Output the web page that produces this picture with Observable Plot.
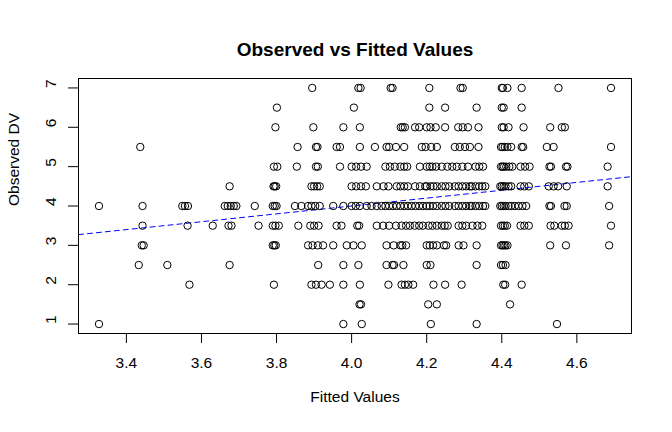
<!DOCTYPE html>
<html><head><meta charset="utf-8">
<script src="https://cdn.jsdelivr.net/npm/d3@7"></script>
<script src="https://cdn.jsdelivr.net/npm/@observablehq/plot@0.6"></script>
<style>body{margin:0;background:#fff;} svg{display:block;}</style>
</head><body><div id="chart"></div>
<script>
// Observed DV levels and fitted values of the points at each level
const fitted_7   = [3.895, 4.018, 4.024, 4.104, 4.109, 4.207, 4.290, 4.296, 4.400, 4.403, 4.415, 4.453, 4.551, 4.691];
const fitted_6_5 = [3.801, 4.006, 4.207, 4.249, 4.333, 4.400, 4.405, 4.453];
const fitted_6   = [3.797, 3.898, 3.978, 4.022, 4.131, 4.136, 4.142, 4.169, 4.180, 4.200, 4.210, 4.224, 4.249, 4.284, 4.296, 4.310, 4.338, 4.400, 4.405, 4.418, 4.458, 4.529, 4.560, 4.568];
const fitted_5_5 = [3.437, 3.856, 3.905, 3.909, 3.960, 3.969, 4.022, 4.062, 4.093, 4.100, 4.118, 4.140, 4.187, 4.197, 4.212, 4.227, 4.275, 4.288, 4.302, 4.315, 4.338, 4.398, 4.402, 4.408, 4.415, 4.425, 4.453, 4.457, 4.520, 4.538, 4.691];
const fitted_5   = [3.793, 3.802, 3.854, 3.905, 3.910, 3.969, 4.000, 4.012, 4.025, 4.040, 4.090, 4.102, 4.115, 4.130, 4.140, 4.148, 4.182, 4.200, 4.208, 4.215, 4.225, 4.240, 4.255, 4.268, 4.280, 4.295, 4.310, 4.330, 4.340, 4.350, 4.398, 4.402, 4.406, 4.412, 4.420, 4.428, 4.450, 4.462, 4.474, 4.527, 4.531, 4.571, 4.575, 4.682];
const fitted_4_5 = [3.675, 3.792, 3.795, 3.799, 3.893, 3.900, 3.908, 3.915, 4.000, 4.012, 4.025, 4.038, 4.067, 4.085, 4.098, 4.120, 4.130, 4.140, 4.150, 4.169, 4.182, 4.196, 4.200, 4.210, 4.218, 4.227, 4.240, 4.250, 4.260, 4.275, 4.285, 4.295, 4.305, 4.315, 4.320, 4.330, 4.340, 4.348, 4.356, 4.396, 4.400, 4.405, 4.410, 4.418, 4.425, 4.450, 4.460, 4.472, 4.525, 4.538, 4.550, 4.573, 4.682];
const fitted_4   = [3.327, 3.443, 3.549, 3.556, 3.564, 3.662, 3.670, 3.678, 3.686, 3.693, 3.742, 3.790, 3.795, 3.800, 3.849, 3.866, 3.884, 3.893, 3.903, 3.915, 3.951, 3.978, 4.000, 4.011, 4.022, 4.040, 4.053, 4.067, 4.080, 4.090, 4.100, 4.110, 4.120, 4.130, 4.140, 4.150, 4.160, 4.170, 4.180, 4.190, 4.200, 4.208, 4.217, 4.227, 4.240, 4.250, 4.260, 4.275, 4.285, 4.295, 4.305, 4.315, 4.320, 4.330, 4.340, 4.350, 4.356, 4.396, 4.400, 4.405, 4.410, 4.418, 4.425, 4.435, 4.445, 4.455, 4.465, 4.527, 4.531, 4.567, 4.573, 4.686];
const fitted_3_5 = [3.443, 3.563, 3.630, 3.672, 3.680, 3.752, 3.790, 3.797, 3.806, 3.858, 3.890, 3.900, 3.912, 3.960, 3.973, 4.015, 4.020, 4.067, 4.084, 4.100, 4.118, 4.133, 4.145, 4.155, 4.168, 4.180, 4.190, 4.205, 4.215, 4.227, 4.240, 4.248, 4.256, 4.285, 4.295, 4.305, 4.322, 4.335, 4.348, 4.398, 4.403, 4.408, 4.414, 4.450, 4.460, 4.472, 4.530, 4.540, 4.560, 4.568, 4.578, 4.691];
const fitted_3   = [3.441, 3.446, 3.790, 3.794, 3.798, 3.884, 3.896, 3.910, 3.924, 3.951, 3.987, 4.005, 4.027, 4.093, 4.112, 4.130, 4.135, 4.145, 4.200, 4.208, 4.217, 4.227, 4.246, 4.252, 4.285, 4.298, 4.333, 4.398, 4.402, 4.406, 4.410, 4.415, 4.529, 4.571, 4.686];
const fitted_2_5 = [3.433, 3.509, 3.675, 3.911, 3.978, 4.018, 4.093, 4.109, 4.113, 4.138, 4.200, 4.210, 4.333, 4.398, 4.403, 4.410];
const fitted_2   = [3.568, 3.793, 3.893, 3.905, 3.920, 3.942, 3.978, 4.022, 4.098, 4.133, 4.142, 4.151, 4.164, 4.218, 4.249, 4.293, 4.404, 4.409, 4.453];
const fitted_1_5 = [4.021, 4.025, 4.204, 4.227, 4.422];
const fitted_1   = [3.327, 3.978, 4.027, 4.211, 4.333, 4.547];

const observedLevels = [7, 6.5, 6, 5.5, 5, 4.5, 4, 3.5, 3, 2.5, 2, 1.5, 1];
const fittedByLevel = [fitted_7, fitted_6_5, fitted_6, fitted_5_5, fitted_5, fitted_4_5, fitted_4, fitted_3_5, fitted_3, fitted_2_5, fitted_2, fitted_1_5, fitted_1];

const xTicks = [3.4, 3.6, 3.8, 4.0, 4.2, 4.4, 4.6];
const yTicks = [1, 2, 3, 4, 5, 6, 7];
const refLine = {intercept: 0, slope: 1};  // abline(0, 1)

const titleText = "Observed vs Fitted Values";
const xLabel = "Fitted Values";
const yLabel = "Observed DV";

// Build table
const points = [];
observedLevels.forEach((lvl, i) => fittedByLevel[i].forEach(f => points.push({fitted: f, observed: lvl})));

// R-style 4% axis expansion
function expand([a, b]) { const d = (b - a) * 0.04; return [a - d, b + d]; }
const xDomain = expand(d3.extent(points, d => d.fitted));
const yDomain = expand(d3.extent(points, d => d.observed));
const lineData = xDomain.map(x => ({x, y: refLine.intercept + refLine.slope * x}));

const font = "'Liberation Sans', Arial, Helvetica, sans-serif";
const fs = 15.5;

const chart = Plot.plot({
  width: 672,
  height: 432,
  marginLeft: 78,
  marginRight: 41,
  marginTop: 78,
  marginBottom: 99,
  style: {fontFamily: font, fontSize: fs + "px", background: "#fff", color: "#000"},
  x: {domain: xDomain},
  y: {domain: yDomain},
  marks: [
    Plot.line(lineData, {x: "x", y: "y", stroke: "#0000ff", strokeWidth: 1, strokeDasharray: "5,4", clip: true}),
    Plot.dot(points, {x: "fitted", y: "observed", r: 3.7, stroke: "#000", fill: "none", strokeWidth: 1}),
    Plot.frame({stroke: "#000", strokeWidth: 1}),
    Plot.axisX({ticks: xTicks, tickSize: 10, tickPadding: 13, tickFormat: d3.format(".1f"), label: null, fontSize: fs, stroke: "#000"}),
    Plot.axisY({ticks: yTicks, tickSize: 10, tickFormat: () => "", label: null, stroke: "#000"}),
    Plot.text(yTicks, {y: d => d, text: d => String(d), frameAnchor: "left", dx: -27, rotate: -90, fontSize: fs, fill: "#000"}),
    Plot.text([titleText], {text: d => d, frameAnchor: "top", dy: -36, fontSize: 19, fontWeight: "bold", fill: "#000"}),
    Plot.text([xLabel], {text: d => d, frameAnchor: "bottom", dy: 68, fontSize: fs, fill: "#000"}),
    Plot.text([yLabel], {text: d => d, frameAnchor: "left", dx: -64, rotate: -90, fontSize: fs, fill: "#000"})
  ]
});
document.getElementById("chart").appendChild(chart);
</script>
</body></html>
